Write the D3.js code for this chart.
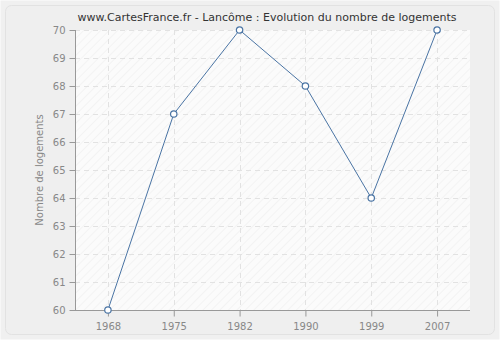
<!DOCTYPE html>
<html>
<head>
<meta charset="utf-8">
<script src="https://cdn.jsdelivr.net/npm/d3@7"></script>
<style>
  body { margin: 0; background: #ffffff; }
  text { font-family: "DejaVu Sans", sans-serif; }
</style>
</head>
<body>
<div id="chart"></div>
<script>
// data
const years = ["1968", "1975", "1982", "1990", "1999", "2007"];
const logements = [60, 67, 70, 68, 64, 70];
const yTicks = [60, 61, 62, 63, 64, 65, 66, 67, 68, 69, 70];

const W = 500, H = 340;
const margin = {top: 30, right: 30, bottom: 30, left: 75};
const width = W - margin.left - margin.right;
const height = H - margin.top - margin.bottom;

const svg = d3.select("#chart").append("svg")
    .attr("width", W)
    .attr("height", H);

// hatch pattern for the plot area
const defs = svg.append("defs");
const pat = defs.append("pattern")
    .attr("id", "hatch")
    .attr("patternUnits", "userSpaceOnUse")
    .attr("width", 6).attr("height", 6)
    .attr("patternTransform", "rotate(45)");
pat.append("rect").attr("width", 6).attr("height", 6).attr("fill", "#fbfbfb");
pat.append("line")
    .attr("x1", 0).attr("y1", 0).attr("x2", 0).attr("y2", 6)
    .attr("stroke", "#ececec").attr("stroke-width", 1);

// outer frame
svg.append("rect")
    .attr("x", 0.5).attr("y", 0.5)
    .attr("width", W - 1).attr("height", H - 1)
    .attr("fill", "#f0f0f0");
svg.append("rect")
    .attr("x", 5.5).attr("y", 5.5)
    .attr("width", W - 11).attr("height", H - 11)
    .attr("rx", 6)
    .attr("fill", "#efefef")
    .attr("stroke", "#e2e2e2");

// title
svg.append("text")
    .attr("x", W / 2 + 17)
    .attr("y", 21)
    .attr("text-anchor", "middle")
    .attr("font-size", 11)
    .attr("fill", "#333")
    .text("www.CartesFrance.fr - Lancôme : Evolution du nombre de logements");

const g = svg.append("g")
    .attr("transform", `translate(${margin.left},${margin.top})`);

// scales
const x = d3.scalePoint()
    .domain(years)
    .range([0, width])
    .padding(0.5);

const y = d3.scaleLinear()
    .domain([60, 70])
    .range([height, 0]);

g.append("rect")
    .attr("width", width).attr("height", height)
    .attr("fill", "url(#hatch)");

// grid
g.selectAll(".hgrid")
    .data(yTicks.slice(1))
    .enter().append("line")
    .attr("class", "hgrid")
    .attr("x1", 0).attr("x2", width)
    .attr("y1", d => Math.round(y(d)) + 0.5)
    .attr("y2", d => Math.round(y(d)) + 0.5)
    .attr("stroke", "#e2e2e2")
    .attr("stroke-dasharray", "5,4");

g.selectAll(".vgrid")
    .data(years)
    .enter().append("line")
    .attr("class", "vgrid")
    .attr("y1", 0).attr("y2", height)
    .attr("x1", d => Math.round(x(d)) + 0.5)
    .attr("x2", d => Math.round(x(d)) + 0.5)
    .attr("stroke", "#e2e2e2")
    .attr("stroke-dasharray", "5,4");

// axes
const yAxis = d3.axisLeft(y).tickValues(yTicks).tickSize(6).tickPadding(4);
const xAxis = d3.axisBottom(x).tickSize(6).tickPadding(6);

const ya = g.append("g").attr("transform", "translate(0.5,0)").call(yAxis);
const xa = g.append("g").attr("transform", `translate(0,${height + 0.5})`).call(xAxis);

[ya, xa].forEach(a => {
    a.selectAll("path").attr("stroke", "#999");
    a.selectAll("line").attr("stroke", "#999");
    a.selectAll("text")
        .attr("fill", "#888")
        .attr("font-size", 10)
        .style("font-family", "DejaVu Sans, sans-serif");
});
ya.select(".domain").attr("d", `M0,0V${height}`);
xa.select(".domain").attr("d", `M0,0H${width}`);

// y label
g.append("text")
    .attr("transform", `translate(-32,${height / 2}) rotate(-90)`)
    .attr("text-anchor", "middle")
    .attr("font-size", 10)
    .attr("fill", "#888")
    .text("Nombre de logements");

// line
const line = d3.line()
    .x((d, i) => x(years[i]))
    .y(d => y(d));

g.append("path")
    .datum(logements)
    .attr("d", line)
    .attr("fill", "none")
    .attr("stroke", "#4a74a4")
    .attr("stroke-width", 1);

g.selectAll(".pt")
    .data(logements)
    .enter().append("circle")
    .attr("class", "pt")
    .attr("cx", (d, i) => x(years[i]))
    .attr("cy", d => y(d))
    .attr("r", 3.2)
    .attr("fill", "#fff")
    .attr("stroke", "#4a74a4")
    .attr("stroke-width", 1.2);
</script>
</body>
</html>
